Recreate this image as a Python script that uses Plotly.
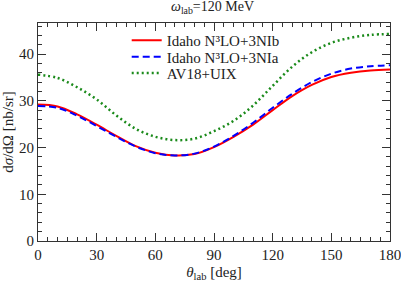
import plotly.graph_objects as go

theta = [0, 10, 20, 30, 40, 50, 60, 70, 80, 90, 100, 110, 120, 130, 140, 150, 160, 170, 180]
idaho_3nib = [29.2, 28.8, 27.1, 24.9, 22.5, 20.3, 18.9, 18.3, 18.6, 20.1, 22.3, 24.9, 28.0, 31.0, 33.4, 35.1, 36.0, 36.5, 36.7]
idaho_3nia = [28.9, 28.5, 26.8, 24.6, 22.3, 20.2, 18.8, 18.3, 18.7, 20.2, 22.5, 25.3, 28.5, 31.5, 34.0, 35.8, 36.9, 37.4, 37.6]
av18_uix = [35.6, 34.9, 32.9, 30.3, 26.9, 24.0, 22.3, 21.6, 21.9, 23.5, 25.7, 29.0, 33.2, 37.3, 40.4, 42.4, 43.5, 44.1, 44.3]

names = ["Idaho N³LO+3NIb", "Idaho N³LO+3NIa", "AV18+UIX"]
colors = ["#ff0000", "#0000ff", "#1a8a1a"]
dashes = ["solid", "7px,4px", "2px,3px"]
widths = [2, 2, 2.5]
legend_ids = ["legend", "legend2", "legend3"]
legend_y = [0.995, 0.92, 0.845]

font = "Liberation Serif, serif"

fig = go.Figure()
for ys, n, c, d, w, lg in zip([idaho_3nib, idaho_3nia, av18_uix], names, colors, dashes, widths, legend_ids):
    fig.add_trace(go.Scatter(x=theta, y=ys, mode="lines", name=n, legend=lg,
                             line=dict(color=c, dash=d, width=w, shape="spline", smoothing=1.0)))

axis_common = dict(showline=True, linecolor="#333333", linewidth=1, mirror="ticks",
                   ticks="inside", ticklen=8, tickwidth=1, tickcolor="#333333",
                   showgrid=False, zeroline=False, automargin=False, ticklabeloverflow="allow",
                   tickfont=dict(family=font, size=15, color="#222222"))

fig.update_layout(
    width=401, height=283,
    margin=dict(l=38, r=11, t=23, b=42),
    plot_bgcolor="white", paper_bgcolor="white",
    font=dict(family=font, size=15, color="#222222"),
    title=dict(text="<i>ω</i><sub>lab</sub>=120 MeV", x=0.53, xanchor="center", y=0.995, yanchor="top",
               font=dict(family=font, size=14)),
    xaxis=dict(range=[0, 180], tickvals=[0, 30, 60, 90, 120, 150, 180],
               minor=dict(dtick=5, ticks="inside", ticklen=4, tickcolor="#333333"),
               title=dict(text="<i>θ</i><sub>lab</sub> [deg]", standoff=4, font=dict(family=font, size=15)),
               **axis_common),
    yaxis=dict(range=[0, 46.65], tickvals=[0, 10, 20, 30, 40],
               minor=dict(dtick=2, ticks="inside", ticklen=4, tickcolor="#333333"),
               title=dict(text="d<i>σ</i>/dΩ [nb/sr]", standoff=2, font=dict(family=font, size=15)),
               **axis_common),
    showlegend=True,
)
for lg, ly in zip(legend_ids, legend_y):
    fig.update_layout({lg: dict(x=0.252, y=ly, xanchor="left", yanchor="top", bgcolor="rgba(0,0,0,0)",
                                font=dict(family=font, size=15), itemwidth=30)})

fig.write_html("out.html", config={"displayModeBar": False},
               post_script="document.body.style.margin='0';document.body.style.padding='0';document.body.style.overflow='hidden';")
